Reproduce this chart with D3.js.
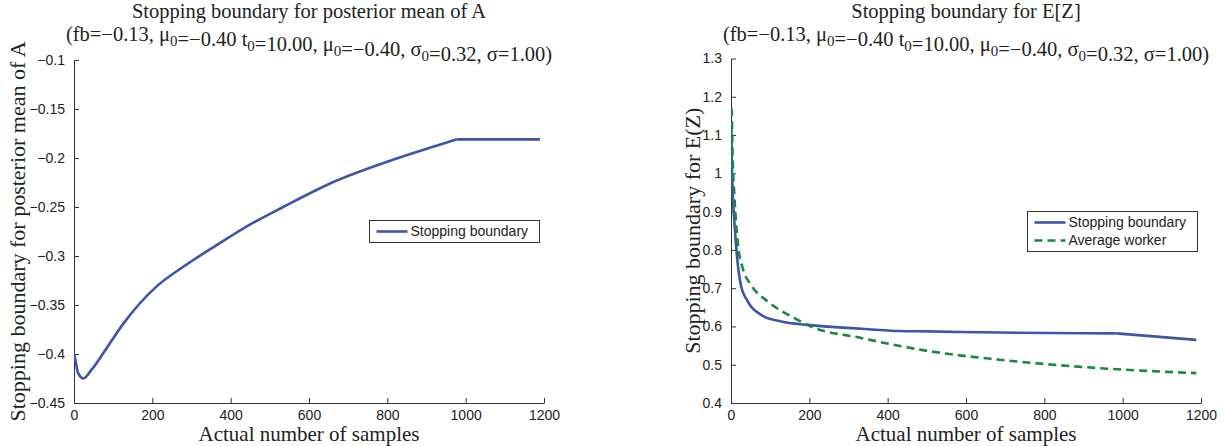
<!DOCTYPE html>
<html>
<head>
    <script src="https://cdnjs.cloudflare.com/ajax/libs/d3/7.8.5/d3.min.js"></script>
    <style>
        body { margin: 0; background: #fff; }
        .tick text { font-family: "Liberation Sans", Arial, sans-serif; font-size: 14px; fill: #222; }
        .axis path, .axis line { stroke: #333; }
        .serif { font-family: "Liberation Serif", "Times New Roman", serif; fill: #222; }
        .legend text { font-family: "Liberation Sans", Arial, sans-serif; font-size: 14px; fill: #222; }
    </style>
</head>
<body>
    <div id="chart"></div>
    <script>
        // Left panel: stopping boundary for posterior mean of A
        const boundaryASamples = [0, 3, 10, 24, 45, 75, 126, 211, 279, 364, 449, 534, 671, 798, 917, 977, 1050, 1190];
        const boundaryAValues = [-0.400, -0.405, -0.419, -0.425, -0.416, -0.399, -0.369, -0.331, -0.311, -0.289, -0.268, -0.250, -0.223, -0.204, -0.1885, -0.181, -0.181, -0.181];

        // Right panel: stopping boundary for E[Z] and average worker
        const boundaryZSamples = [1, 2, 4, 8.6, 15, 25, 43, 77, 128, 196, 332, 430, 502, 686, 984, 1188];
        const boundaryZValues = [1.12, 1.04, 0.96, 0.874, 0.787, 0.709, 0.665, 0.630, 0.613, 0.604, 0.594, 0.588, 0.587, 0.584, 0.582, 0.565];
        const workerSamples = [1, 2, 4, 8.6, 17, 30, 51, 94, 162, 204, 332, 431, 502, 686, 941, 1188];
        const workerValues = [1.17, 1.16, 1.05, 0.943, 0.822, 0.752, 0.709, 0.665, 0.622, 0.600, 0.570, 0.549, 0.536, 0.513, 0.491, 0.478];

        const xTicks = [0, 200, 400, 600, 800, 1000, 1200];
        const leftYTicks = [-0.45, -0.4, -0.35, -0.3, -0.25, -0.2, -0.15, -0.1];
        const rightYTicks = [0.4, 0.5, 0.6, 0.7, 0.8, 0.9, 1, 1.1, 1.2, 1.3];

        const titleParams = [["(fb=\u22120.13, ", null], ["\u03bc", "0"], ["=\u22120.40 t", "0"], ["=10.00, \u03bc", "0"],
                             ["=\u22120.40, \u03c3", "0"], ["=0.32, \u03c3=1.00)", null]];

        const blue = "#3d55a8";
        const green = "#17893f";

        const width = 1225, height = 446;
        const svg = d3.select("#chart").append("svg")
            .attr("width", width).attr("height", height);

        function fmt(v) {
            return (v < 0 ? "\u2212" : "") + String(Math.abs(+v.toFixed(2)));
        }

        function panel(opts) {
            const x = d3.scaleLinear().domain([0, 1200]).range([opts.left, opts.right]);
            const y = d3.scaleLinear().domain(opts.yDomain).range([opts.bottom, opts.top]);
            const cx = (opts.left + opts.right) / 2;
            const cy = (opts.top + opts.bottom) / 2;
            const g = svg.append("g");

            // axes with inward ticks (matlab style)
            g.append("g").attr("class", "axis")
                .attr("transform", `translate(0,${opts.bottom})`)
                .call(d3.axisBottom(x).tickValues(xTicks).tickFormat(d3.format("d"))
                    .tickSizeInner(-5).tickSizeOuter(0).tickPadding(7))
                .call(a => a.selectAll(".tick text").attr("dy", "0.71em"));
            g.append("g").attr("class", "axis")
                .attr("transform", `translate(${opts.left},0)`)
                .call(d3.axisLeft(y).tickValues(opts.yTicks).tickSizeInner(-5).tickSizeOuter(0).tickPadding(9).tickFormat(fmt));

            const clipId = "clip" + opts.id;
            g.append("clipPath").attr("id", clipId).append("rect")
                .attr("x", opts.left).attr("y", opts.top - 2)
                .attr("width", opts.right - opts.left).attr("height", opts.bottom - opts.top + 2);

            const smooth = d3.line().x(d => x(d[0])).y(d => y(d[1])).curve(d3.curveMonotoneX);
            const straight = d3.line().x(d => x(d[0])).y(d => y(d[1]));
            opts.series.forEach(s => {
                const pts = d3.zip(s.xs, s.ys);
                // keep the sharp corner where the boundary levels off
                const parts = s.kinkAt == null ? [[pts, smooth]]
                    : [[pts.filter(p => p[0] <= s.kinkAt), smooth], [pts.filter(p => p[0] >= s.kinkAt), straight]];
                parts.forEach(([data, gen]) => {
                    g.append("path")
                        .datum(data)
                        .attr("clip-path", `url(#${clipId})`)
                        .attr("fill", "none")
                        .attr("stroke", s.color)
                        .attr("stroke-width", 2.6)
                        .attr("stroke-linejoin", "round")
                        .attr("stroke-dasharray", s.dash || null)
                        .attr("d", gen);
                });
            });

            // titles
            g.append("text").attr("class", "serif")
                .attr("x", cx).attr("y", 18).attr("text-anchor", "middle")
                .style("font-size", "20.5px").text(opts.title);
            const t2 = g.append("text").attr("class", "serif")
                .attr("x", cx).attr("y", 40.5).attr("text-anchor", "middle")
                .style("font-size", "20.5px");
            titleParams.forEach(([main, sub]) => {
                t2.append("tspan").text(main);
                if (sub) {
                    t2.append("tspan").attr("dy", 5).style("font-size", "15px").text(sub);
                    t2.append("tspan").attr("dy", -5).text("");
                }
            });

            g.append("text").attr("class", "serif")
                .attr("x", cx).attr("y", 441).attr("text-anchor", "middle")
                .style("font-size", "21px").text("Actual number of samples");
            g.append("text").attr("class", "serif")
                .attr("transform", `translate(${opts.yLabelX},${cy}) rotate(-90)`)
                .attr("text-anchor", "middle")
                .style("font-size", "22px").text(opts.yLabel);

            // legend
            const lg = g.append("g").attr("class", "legend");
            lg.append("rect")
                .attr("x", opts.legend.x).attr("y", opts.legend.y)
                .attr("width", opts.legend.w).attr("height", opts.legend.h)
                .attr("fill", "#fff").attr("stroke", "#333").attr("stroke-width", 1);
            opts.series.forEach((s, i) => {
                const ly = opts.legend.y + opts.legend.pad + i * 18;
                lg.append("line")
                    .attr("x1", opts.legend.x + 7).attr("x2", opts.legend.x + 38)
                    .attr("y1", ly).attr("y2", ly)
                    .attr("stroke", s.color).attr("stroke-width", 2.6)
                    .attr("stroke-dasharray", s.dash || null);
                lg.append("text")
                    .attr("x", opts.legend.x + 41).attr("y", ly).attr("dy", "0.35em")
                    .text(s.name);
            });
        }

        panel({
            id: "A", left: 74, right: 544, top: 60, bottom: 403,
            yDomain: [-0.45, -0.1], yTicks: leftYTicks,
            title: "Stopping boundary for posterior mean of A",
            yLabel: "Stopping boundary for posterior mean of A", yLabelX: 25,
            series: [{ name: "Stopping boundary", xs: boundaryASamples, ys: boundaryAValues, color: blue, kinkAt: 977 }],
            legend: { x: 369.5, y: 220.5, w: 170, h: 22, pad: 11 }
        });

        panel({
            id: "Z", left: 731, right: 1201, top: 58.5, bottom: 403,
            yDomain: [0.4, 1.3], yTicks: rightYTicks,
            title: "Stopping boundary for E[Z]",
            yLabel: "Stopping boundary for E(Z)", yLabelX: 700,
            series: [
                { name: "Stopping boundary", xs: boundaryZSamples, ys: boundaryZValues, color: blue, kinkAt: 984 },
                { name: "Average worker", xs: workerSamples, ys: workerValues, color: green, dash: "8,5" }
            ],
            legend: { x: 1027.5, y: 211.5, w: 170, h: 40, pad: 11 }
        });
    </script>
</body>
</html>
